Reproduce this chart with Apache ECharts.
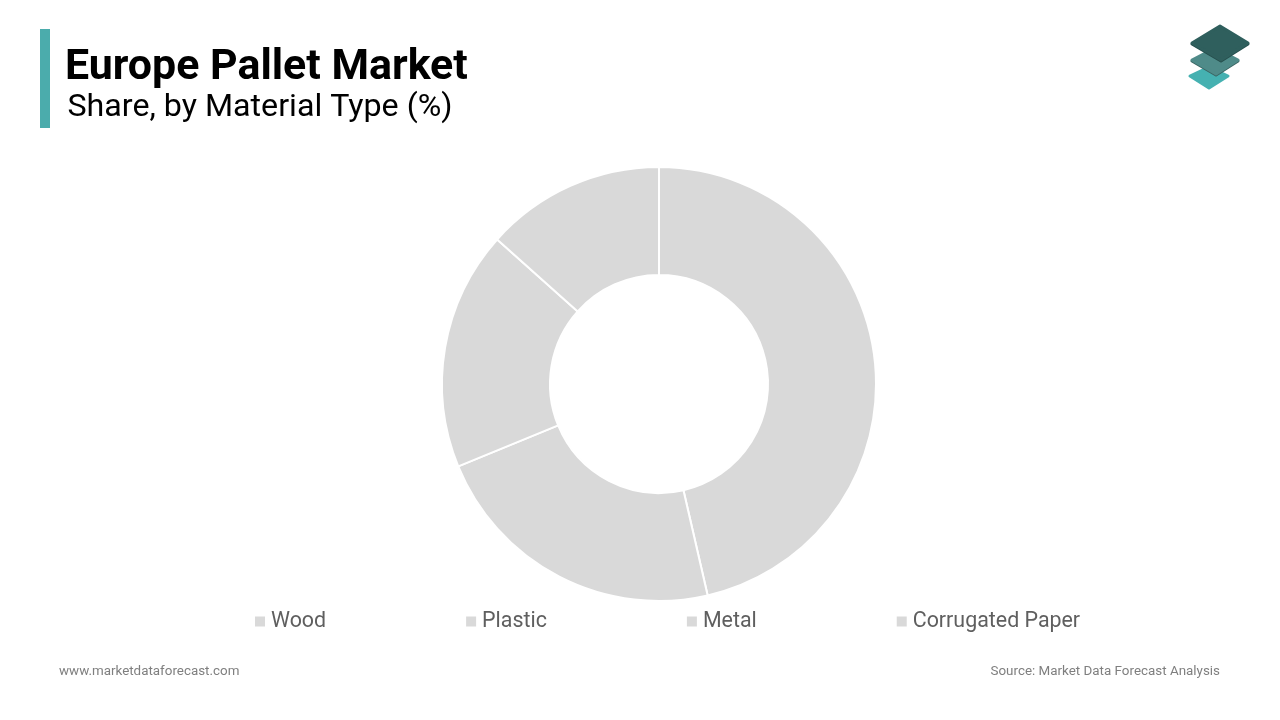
<!DOCTYPE html>
<html lang="en">
<head>
    <meta charset="UTF-8">
    <title>Europe Pallet Market</title>
    <script src="https://cdn.jsdelivr.net/npm/echarts@6/dist/echarts.min.js"></script>
    <style>
        html, body { margin: 0; background: #fff; }
        #main { width: 1280px; height: 720px; }
    </style>
</head>
<body>
    <div id="main"></div>
    <script>
        var categories = ['Wood', 'Plastic', 'Metal', 'Corrugated Paper'];
        var shares = [46.4, 22.4, 17.8, 13.4];

        var chart = echarts.init(document.getElementById('main'));

        // little stacked diamonds, top right
        function diamond(points, fill) {
            return {
                type: 'polygon',
                shape: { points: points },
                style: { fill: fill, stroke: fill, lineWidth: 3, lineJoin: 'round' }
            };
        }

        var option = {
            animation: false,
            backgroundColor: '#fff',
            textStyle: { fontFamily: 'Roboto' },
            title: [
                {
                    text: 'Europe Pallet Market',
                    left: 60, top: 42,
                    textStyle: { fontFamily: 'Roboto', fontSize: 42.9, fontWeight: 'bold', color: '#000' }
                },
                {
                    text: 'Share, by Material Type (%)',
                    left: 62.5, top: 87,
                    textStyle: { fontFamily: 'Roboto', fontSize: 32.2, fontWeight: 'normal', color: '#000' }
                }
            ],
            legend: {
                data: categories,
                left: 250, top: 606,
                icon: 'rect',
                itemWidth: 10, itemHeight: 10,
                itemGap: 140,
                itemStyle: { borderWidth: 0 },
                textStyle: { fontFamily: 'Roboto', fontSize: 21.4, color: '#5f5f5f', padding: [0, 0, 0, 1] }
            },
            series: [{
                type: 'pie',
                center: [659, 384],
                radius: [109, 217],
                startAngle: 90,
                clockwise: true,
                color: ['#d9d9d9'],
                label: { show: false },
                labelLine: { show: false },
                itemStyle: { borderColor: '#fff', borderWidth: 2 },
                data: categories.map(function (name, i) {
                    return { name: name, value: shares[i] };
                })
            }],
            graphic: [
                { type: 'rect', shape: { x: 40, y: 29, width: 10, height: 99 }, style: { fill: '#4bacac' } },
                diamond([[1190, 76], [1209, 67], [1228, 76], [1209, 88]], '#45b1b1'),
                diamond([[1192, 61], [1215, 49], [1238, 61], [1216, 75]], '#3a6462'),
                diamond([[1192, 60], [1215, 48], [1238, 60], [1216, 74]], '#4f8b89'),
                diamond([[1192, 44], [1220, 27], [1248, 44], [1221, 61]], '#264f4d'),
                diamond([[1192, 43], [1220, 26], [1248, 43], [1221, 60]], '#2f5f5d'),
                {
                    type: 'text', x: 59, y: 665,
                    style: { text: 'www.marketdataforecast.com', font: '13.4px Roboto', fill: '#7f7f7f' }
                },
                {
                    type: 'text', x: 1220, y: 665,
                    style: { text: 'Source: Market Data Forecast Analysis', font: '13.4px Roboto', fill: '#7f7f7f', align: 'right' }
                }
            ]
        };

        chart.setOption(option);
    </script>
</body>
</html>
